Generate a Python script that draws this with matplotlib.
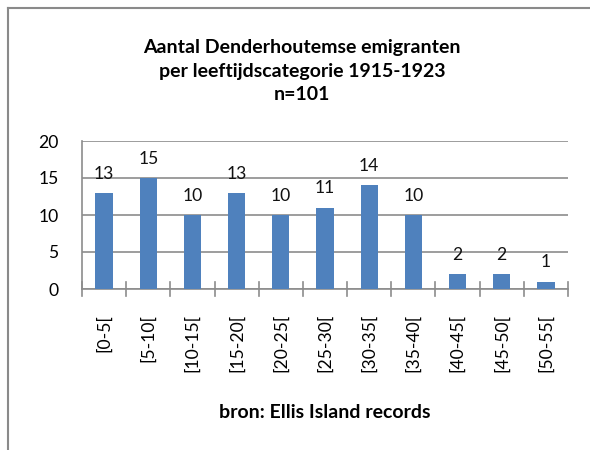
import matplotlib.pyplot as plt
from matplotlib.lines import Line2D

categories = ['[0-5[', '[5-10[', '[10-15[', '[15-20[', '[20-25[', '[25-30[',
              '[30-35[', '[35-40[', '[40-45[', '[45-50[', '[50-55[']
counts = [13, 15, 10, 13, 10, 11, 14, 10, 2, 2, 1]
yticks = [0, 5, 10, 15, 20]

title = 'Aantal Denderhoutemse emigranten\nper leeftijdscategorie 1915-1923\nn=101'
xlabel = 'bron: Ellis Island records'

plt.rcParams['font.family'] = ['Lato', 'DejaVu Sans']

W, H = 590, 450
fig = plt.figure(figsize=(W / 100, H / 100), dpi=100)
ax = fig.add_axes([82 / W, 1 - 289 / H, (568 - 82) / W, 148 / H])

bar_col = '#4F81BD'
grid_col = '#8C8C8C'
x = list(range(len(categories)))
ax.bar(x, counts, width=0.39, color=bar_col, zorder=3)

for xi, v in zip(x, counts):
    ax.annotate(str(v), (xi, v), xytext=(0, 8), textcoords='offset points',
                ha='center', va='bottom', fontsize=12.6, color='#111111')

ax.set_xlim(-0.5, len(categories) - 0.5)
ax.set_ylim(0, 20)
ax.set_yticks(yticks)
ax.set_xticks(x)
ax.set_xticklabels(categories, rotation=90, fontsize=12.6)
ax.tick_params(axis='y', length=0, labelsize=12.6, pad=17)
ax.tick_params(axis='x', length=0, pad=18)
# cross tick marks between categories
for b in [i - 0.5 for i in range(len(categories) + 1)]:
    ax.plot([b, b], [-0.9, 0.9], color=grid_col, lw=1.2, clip_on=False, zorder=4)

ax.grid(axis='y', color=grid_col, lw=1.2, zorder=0)
for s in ['top', 'right']:
    ax.spines[s].set_visible(False)
ax.spines['left'].set_color(grid_col)
ax.spines['bottom'].set_color(grid_col)
ax.spines['left'].set_linewidth(1.2)
ax.spines['bottom'].set_linewidth(1.2)

fig.text(302 / W, 1 - 71 / H, title, ha='center', va='center', fontsize=14,
         fontweight='bold', linespacing=1.45)
fig.text(325 / W, 1 - 412 / H, xlabel, ha='center', va='center', fontsize=14,
         fontweight='bold')

# outer chart frame
frame_col = '#8A8A8A'
fig.add_artist(Line2D([8 / W, 1], [1 - 8 / H, 1 - 8 / H], transform=fig.transFigure,
                      color=frame_col, lw=1.5))
fig.add_artist(Line2D([8 / W, 8 / W], [0, 1 - 8 / H], transform=fig.transFigure,
                      color=frame_col, lw=1.5))

fig.savefig('out.png', dpi=100)
